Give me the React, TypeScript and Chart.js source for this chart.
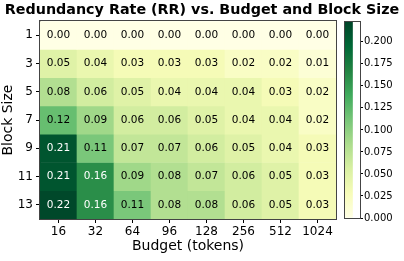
import React, { useEffect, useRef } from 'react';
import { Chart, registerables } from 'chart.js';
Chart.register(...registerables);

const BUDGETS = ['16', '32', '64', '96', '128', '256', '512', '1024'];
const BLOCK_SIZES = ['1', '3', '5', '7', '9', '11', '13'];
const RR_1 = [0.0, 0.0, 0.0, 0.0, 0.0, 0.0, 0.0, 0.0];
const RR_3 = [0.05, 0.04, 0.03, 0.03, 0.03, 0.02, 0.02, 0.01];
const RR_5 = [0.08, 0.06, 0.05, 0.04, 0.04, 0.04, 0.03, 0.02];
const RR_7 = [0.12, 0.09, 0.06, 0.06, 0.05, 0.04, 0.04, 0.02];
const RR_9 = [0.21, 0.11, 0.07, 0.07, 0.06, 0.05, 0.04, 0.03];
const RR_11 = [0.21, 0.16, 0.09, 0.08, 0.07, 0.06, 0.05, 0.03];
const RR_13 = [0.22, 0.16, 0.11, 0.08, 0.08, 0.06, 0.05, 0.03];
const ROWS = [RR_1, RR_3, RR_5, RR_7, RR_9, RR_11, RR_13];
const VMAX = 0.2225;
const CB_TICKS = [0, 0.025, 0.05, 0.075, 0.1, 0.125, 0.15, 0.175, 0.2];

const YLGN = ['#ffffe5', '#f7fcb9', '#d9f0a3', '#addd8e', '#78c679', '#41ab5d', '#238443', '#006837', '#004529'];
const FONT = 'DejaVu Sans';

function hexToRgb(h: string) {
  return [parseInt(h.slice(1, 3), 16), parseInt(h.slice(3, 5), 16), parseInt(h.slice(5, 7), 16)];
}
function cmap(t: number) {
  t = Math.max(0, Math.min(1, t));
  const x = t * (YLGN.length - 1);
  const i = Math.min(Math.floor(x), YLGN.length - 2);
  const f = x - i;
  const a = hexToRgb(YLGN[i]);
  const b = hexToRgb(YLGN[i + 1]);
  const c = a.map((v, k) => Math.round(v + (b[k] - v) * f));
  return `rgb(${c[0]},${c[1]},${c[2]})`;
}

const annotate = {
  id: 'annotate',
  afterDatasetsDraw(chart: any) {
    const ctx = chart.ctx;
    ctx.save();
    ctx.font = `10.5px "${FONT}"`;
    ctx.textAlign = 'center';
    ctx.textBaseline = 'middle';
    chart.data.datasets.forEach((_: any, di: number) => {
      const meta = chart.getDatasetMeta(di);
      meta.data.forEach((bar: any, j: number) => {
        const p = bar.getProps(['x', 'y', 'base'], true);
        const v = ROWS[di][j];
        ctx.fillStyle = v >= 0.15 ? '#ffffff' : '#000000';
        ctx.fillText(v.toFixed(2), p.x, (p.y + p.base) / 2);
      });
    });
    ctx.restore();
  },
};

const frame = {
  id: 'frame',
  afterDraw(chart: any) {
    const { ctx, chartArea } = chart;
    ctx.save();
    ctx.strokeStyle = '#444';
    ctx.lineWidth = 1;
    ctx.strokeRect(Math.round(chartArea.left) - 0.5, Math.round(chartArea.top) - 0.5,
      Math.round(chartArea.right - chartArea.left) + 1, Math.round(chartArea.bottom - chartArea.top) + 1);
    ctx.restore();
  },
};

export default function App() {
  const mainRef = useRef<HTMLCanvasElement>(null);
  const cbRef = useRef<HTMLCanvasElement>(null);

  useEffect(() => {
    const main = new Chart(mainRef.current!, {
      type: 'bar',
      data: {
        labels: BUDGETS,
        datasets: BLOCK_SIZES.map((b, i) => ({
          label: b,
          data: BUDGETS.map(() => 1),
          backgroundColor: ROWS[i].map((v) => cmap(v / VMAX)),
          borderWidth: 0,
          barPercentage: 1,
          categoryPercentage: 1,
        })),
      },
      options: {
        animation: false,
        responsive: false,
        devicePixelRatio: 1,
        layout: { padding: 0 },
        plugins: {
          legend: { display: false },
          tooltip: { enabled: false },
          title: {
            display: true,
            text: 'Redundancy Rate (RR) vs. Budget and Block Size',
            color: '#000',
            font: { family: FONT, size: 14.3, weight: 'bold' },
            padding: { top: 2, bottom: 2 },
          },
        },
        scales: {
          x: {
            type: 'category',
            stacked: true,
            offset: true,
            grid: { display: true, drawOnChartArea: false, drawTicks: true, tickLength: 4, offset: false, color: '#000' },
            border: { display: true, color: '#444' },
            ticks: { color: '#000', font: { family: FONT, size: 12 }, padding: 2, maxRotation: 0 },
            title: { display: true, text: 'Budget (tokens)', color: '#000', font: { family: FONT, size: 14 }, padding: { top: 0, bottom: 6 } },
            afterFit: (s: any) => { s.height = 42; },
          },
          y: {
            type: 'linear',
            stacked: true,
            min: 0,
            max: 7,
            reverse: true,
            afterBuildTicks: (s: any) => { s.ticks = BLOCK_SIZES.map((_, i) => ({ value: i + 0.5 })); },
            grid: { display: true, drawOnChartArea: false, drawTicks: true, tickLength: 4, color: '#000' },
            border: { display: true, color: '#444' },
            ticks: {
              color: '#000',
              font: { family: FONT, size: 12 },
              padding: 3,
              callback: (v: any) => BLOCK_SIZES[Math.floor(Number(v))],
            },
            title: { display: true, text: 'Block Size', color: '#000', font: { family: FONT, size: 14 }, padding: { top: 0, bottom: 0 } },
            afterFit: (s: any) => { s.width = 40; },
          },
          spacer: {
            type: 'linear',
            position: 'right',
            display: true,
            grid: { display: false, drawTicks: false },
            border: { display: false },
            ticks: { display: false },
            afterFit: (s: any) => { s.width = 68; },
          },
        },
      } as any,
      plugins: [annotate, frame],
    });

    const cb = new Chart(cbRef.current!, {
      type: 'bar',
      data: {
        labels: [''],
        datasets: [{
          data: [VMAX],
          backgroundColor: (c: any) => {
            const area = c.chart.chartArea;
            if (!area) return YLGN[0];
            const g = c.chart.ctx.createLinearGradient(0, area.bottom, 0, area.top);
            YLGN.forEach((col, i) => g.addColorStop(i / (YLGN.length - 1), col));
            return g;
          },
          borderWidth: 0,
          barPercentage: 1,
          categoryPercentage: 1,
        }],
      },
      options: {
        animation: false,
        responsive: false,
        devicePixelRatio: 1,
        layout: { padding: { left: 5, right: 0, top: 22, bottom: 43 } },
        plugins: { legend: { display: false }, tooltip: { enabled: false } },
        scales: {
          x: { display: false, offset: false },
          y: {
            position: 'right',
            min: 0,
            max: VMAX,
            afterBuildTicks: (s: any) => { s.ticks = CB_TICKS.map((v) => ({ value: v })); },
            grid: { display: true, drawOnChartArea: false, drawTicks: true, tickLength: 3, color: '#000' },
            border: { display: false },
            ticks: { color: '#000', font: { family: FONT, size: 10 }, padding: 1, callback: (v: any) => Number(v).toFixed(3) },
            afterFit: (s: any) => { s.width = 44; },
          },
        },
      } as any,
      plugins: [frame],
    });

    return () => { main.destroy(); cb.destroy(); };
  }, []);

  return (
    <div style={{ position: 'fixed', left: 0, top: 0, width: 404, height: 261, background: '#fff' }}>
      <canvas ref={mainRef} width={404} height={261} style={{ position: 'absolute', left: 0, top: 0, width: 404, height: 261 }} />
      <canvas ref={cbRef} width={64} height={261} style={{ position: 'absolute', left: 340, top: 0, width: 64, height: 261 }} />
    </div>
  );
}
